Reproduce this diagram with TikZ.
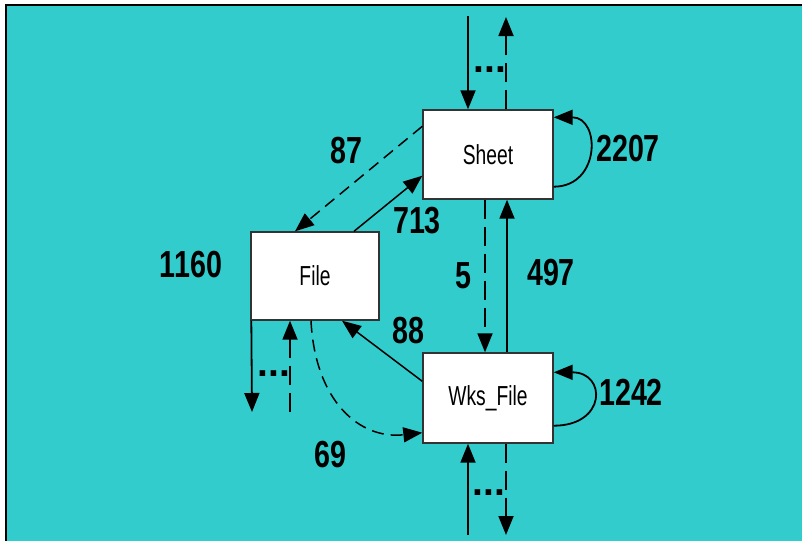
\documentclass[tikz,border=0pt]{standalone}
\usepackage{fontspec}
\usepackage{tikz}
\usetikzlibrary{positioning, arrows.meta}
\newfontfamily\boxfont{Liberation Sans}[FakeStretch=0.7]
\newfontfamily\numfont{Liberation Sans}[FakeStretch=0.76]
\newfontfamily\dotfont{Liberation Sans}
\definecolor{bgteal}{RGB}{51,204,204}
\tikzset{
  box/.style={rectangle, draw=black!80, line width=1.4pt, fill=white, inner sep=0pt, minimum width=130pt, minimum height=89pt, font=\boxfont\fontsize{27.5}{30}\selectfont},
  count/.style={inner sep=0pt, font=\numfont\bfseries\fontsize{37.7}{40}\selectfont},
  dotmark/.style={inner sep=0pt, font=\dotfont\bfseries\fontsize{39}{41}\selectfont},
  arrow/.style={line width=1.8pt, -{Triangle[length=19pt, width=15pt]}},
  dasharrow/.style={arrow, dash pattern=on 19pt off 8pt},
  shortdash/.style={arrow, line width=1.5pt, dash pattern=on 12pt off 7pt},
}
\begin{document}
\begin{tikzpicture}[x=1pt, y=-1pt]
        \useasboundingbox (0,0) rectangle (802,541);
        % Background
        \fill[white] (0,0) rectangle (802,541);
        \fill[bgteal] (6,5) rectangle (802,541);
        \draw[line width=2pt] (6,541) -- (6,5) -- (802,5);

        % Sheet
        \node[box] (sheet) at (488,154.5) {Sheet};

        % File
        \node[box, minimum width=128pt, minimum height=88pt] (file) at (315,276) {File};

        % Wks_File
        \node[box, minimum height=90pt] (wks) at (488,398) {Wks\_File};

        % Free ends
        \coordinate (sheetin) at (468,16);
        \coordinate (sheetout) at (506,17);
        \coordinate (fileout) at (252,412);
        \coordinate (filein) at (290,412);
        \coordinate (wksin) at (468,535);
        \coordinate (wksout) at (506,535);

        % Connections
        \draw[arrow] (sheetin) -- (sheetin |- sheet.north);
        \draw[dasharrow] (sheetout |- sheet.north) -- (sheetout);
        \draw[arrow] ([yshift=13pt]sheet.south east) .. controls +(47,0) and +(47,0) .. ([yshift=-8pt]sheet.north east);
        \draw[shortdash] ([yshift=-17pt]sheet.north west) -- ([xshift=-20pt]file.north);
        \draw[arrow, line width=1.5pt] ([xshift=39pt]file.north) -- ([yshift=24pt]sheet.south west);
        \draw[arrow] ([xshift=1pt]file.south west) -- (fileout);
        \draw[dasharrow] (filein) -- (filein |- file.south);
        \draw[dasharrow] ([xshift=-3pt]sheet.south) -- ([xshift=-3pt]wks.north);
        \draw[arrow] ([xshift=19pt]wks.north) -- ([xshift=19pt]sheet.south);
        \draw[arrow, line width=1.5pt] ([yshift=-29pt]wks.north west) -- ([xshift=27pt]file.south);
        \draw[shortdash] ([xshift=-4pt]file.south) .. controls +(4,80) and +(-63,7) .. ([yshift=11pt]wks.south west);
        \draw[arrow] ([yshift=18pt]wks.south east) .. controls +(53,0) and +(53,0) .. ([yshift=-20pt]wks.north east);
        \draw[arrow] (wksin) -- (wksin |- wks.south);
        \draw[dasharrow] (wksout |- wks.south) -- (wksout);

        % Counts
        \node[count] (n87) at (346,151) {87};
        \node[count] (n713) at (417,221) {713};
        \node[count] (n1160) at (191,265) {1160};
        \node[count] (n2207) at (628,149) {2207};
        \node[count] (n5) at (463,276) {5};
        \node[count] (n497) at (551,273) {497};
        \node[count] (n88) at (408,331) {88};
        \node[count] (n69) at (330,455) {69};
        \node[count] (n1242) at (631,392) {1242};

        % Ellipses
        \node[dotmark] (sheetdots) at (490,70) {...};
        \node[dotmark] (filedots) at (274,374) {...};
        \node[dotmark] (wksdots) at (489,493) {...};
\end{tikzpicture}
\end{document}
